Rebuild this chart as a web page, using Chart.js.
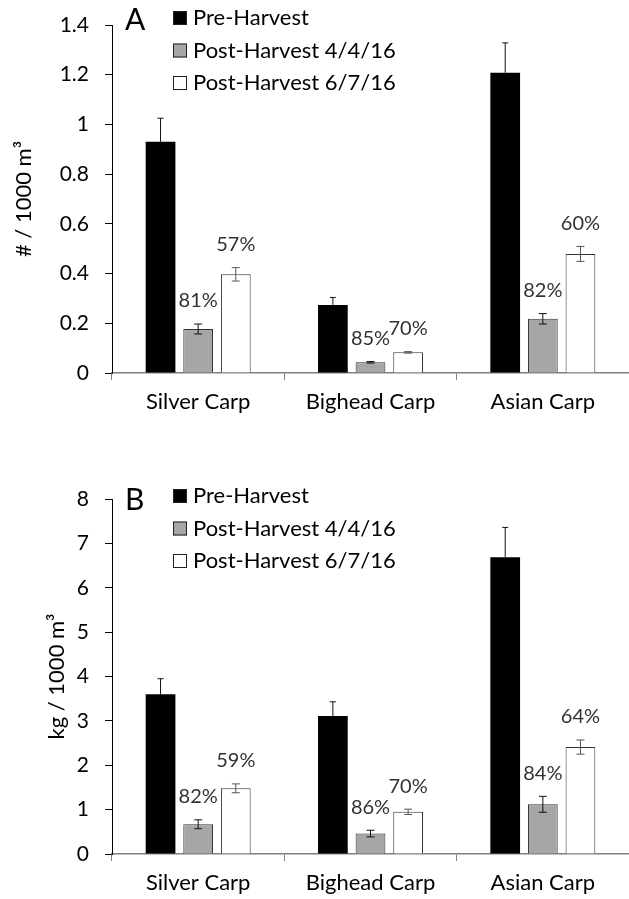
<!DOCTYPE html>
<html>
<head>
<meta charset="utf-8">
<script src="https://cdn.jsdelivr.net/npm/chart.js@4"></script>
<style>
  body { margin: 0; background: #fff; overflow: hidden; }
  .box { position: absolute; left: 0; width: 629px; }
  #boxA { top: -10px; height: 450px; }
  #boxB { top: 450px; height: 449px; }
</style>
</head>
<body>
<div class="box" id="boxA"><canvas id="chartA"></canvas></div>
<div class="box" id="boxB"><canvas id="chartB"></canvas></div>
<script>
// DATA
const categories = ['Silver Carp', 'Bighead Carp', 'Asian Carp'];
const seriesNames = ['Pre-Harvest', 'Post-Harvest 4/4/16', 'Post-Harvest 6/7/16'];

// panel A: number per 1000 m3
const preA = [0.93, 0.274, 1.208];
const post1A = [0.177, 0.043, 0.218];
const post2A = [0.397, 0.083, 0.479];
const preErrA = [0.095, 0.03, 0.12];
const post1ErrA = [0.02, 0.003, 0.021];
const post2ErrA = [0.027, 0.003, 0.03];
const pct1A = ['81%', '85%', '82%'];
const pct2A = ['57%', '70%', '60%'];
const ticksA = [0, 0.2, 0.4, 0.6, 0.8, 1, 1.2, 1.4];

// panel B: kg per 1000 m3
const preB = [3.6, 3.11, 6.69];
const post1B = [0.67, 0.46, 1.12];
const post2B = [1.48, 0.95, 2.41];
const preErrB = [0.35, 0.32, 0.67];
const post1ErrB = [0.1, 0.075, 0.18];
const post2ErrB = [0.1, 0.06, 0.16];
const pct1B = ['82%', '86%', '84%'];
const pct2B = ['59%', '70%', '64%'];
const ticksB = [0, 1, 2, 3, 4, 5, 6, 7, 8];

const FONT = 'Lato, "Open Sans", sans-serif';

// error bars, percent labels, legend and panel letter
const extras = {
    id: 'extras',
    afterDatasetsDraw(chart, args, opts) {
        const ctx = chart.ctx;
        const y = chart.scales.y;
        ctx.save();
        chart.data.datasets.forEach((ds, i) => {
            const meta = chart.getDatasetMeta(i);
            meta.data.forEach((bar, j) => {
                const v = ds.data[j];
                const e = ds.err[j];
                const top = y.getPixelForValue(v + e);
                const bot = i === 0 ? bar.y : y.getPixelForValue(v - e);
                const cap = i === 0 ? 3 : 4;
                ctx.strokeStyle = i === 2 ? '#555' : '#111';
                ctx.lineWidth = 1;
                ctx.beginPath();
                ctx.moveTo(bar.x, top);
                ctx.lineTo(bar.x, bot);
                ctx.moveTo(bar.x - cap, top);
                ctx.lineTo(bar.x + cap, top);
                if (i > 0) {
                    ctx.moveTo(bar.x - cap, bot);
                    ctx.lineTo(bar.x + cap, bot);
                }
                ctx.stroke();
                if (ds.pct) {
                    ctx.fillStyle = '#333';
                    ctx.font = '20px ' + FONT;
                    ctx.textAlign = 'center';
                    ctx.textBaseline = 'middle';
                    ctx.fillText(ds.pct[j], bar.x, top - 23);
                }
            });
        });

        // legend
        const ca = chart.chartArea;
        ctx.font = '22px ' + FONT;
        ctx.textAlign = 'left';
        ctx.textBaseline = 'middle';
        chart.data.datasets.forEach((ds, i) => {
            const ly = ca.top + opts.legendY + i * 32.5;
            ctx.fillStyle = ds.backgroundColor;
            ctx.fillRect(173, ly - 7, 14, 14);
            ctx.strokeStyle = '#222';
            ctx.strokeRect(173.5, ly - 6.5, 13, 13);
            ctx.fillStyle = '#000';
            ctx.fillText(ds.label, 193, ly);
        });

        // panel letter
        ctx.font = '30px ' + FONT;
        ctx.fillText(opts.letter, 125, ca.top + opts.letterY);
        ctx.restore();
    }
};

function makeChart(id, pre, post1, post2, preErr, post1Err, post2Err, pct1, pct2, ticks, title, o) {
    return new Chart(document.getElementById(id), {
        type: 'bar',
        data: {
            labels: categories,
            datasets: [
                { label: seriesNames[0], data: pre, err: preErr, backgroundColor: '#000000', borderWidth: 0 },
                { label: seriesNames[1], data: post1, err: post1Err, pct: pct1, backgroundColor: '#a6a6a6', borderColor: '#333', borderWidth: 1 },
                { label: seriesNames[2], data: post2, err: post2Err, pct: pct2, backgroundColor: '#ffffff', borderColor: '#333', borderWidth: 1 }
            ]
        },
        options: {
            responsive: true,
            maintainAspectRatio: false,
            animation: false,
            categoryPercentage: 0.655,
            barPercentage: 0.79,
            layout: { padding: { top: o.top, right: 0, bottom: 0, left: 0 } },
            plugins: {
                legend: { display: false },
                tooltip: { enabled: false },
                extras: { letter: o.letter, legendY: o.legendY, letterY: o.letterY }
            },
            scales: {
                x: {
                    grid: { offset: true, drawOnChartArea: false, tickLength: 7, color: '#808080' },
                    border: { color: '#808080', width: 1.5 },
                    ticks: { color: '#000', padding: 9, font: { family: FONT, size: 22 } },
                    afterFit: s => { s.height = o.xh; }
                },
                y: {
                    min: ticks[0],
                    max: ticks[ticks.length - 1],
                    afterBuildTicks: s => { s.ticks = ticks.map(v => ({ value: v })); },
                    grid: { drawOnChartArea: false, tickLength: 7, color: '#000' },
                    border: { color: '#000', width: 1 },
                    ticks: {
                        color: '#000',
                        padding: 16,
                        font: { family: FONT, size: 21 },
                        callback: v => String(Number(v.toFixed(1)))
                    },
                    title: {
                        display: true,
                        text: title,
                        color: '#000',
                        font: { family: FONT, size: 22 },
                        padding: { top: o.titlePad, bottom: 0 }
                    },
                    afterFit: s => { s.width = 112; }
                }
            }
        },
        plugins: [extras]
    });
}

makeChart('chartA', preA, post1A, post2A, preErrA, post1ErrA, post2ErrA, pct1A, pct2A, ticksA,
    '# / 1000 m³', { top: 35, xh: 67, letter: 'A', legendY: -7, letterY: -5, titlePad: 11 });
makeChart('chartB', preB, post1B, post2B, preErrB, post1ErrB, post2ErrB, pct1B, pct2B, ticksB,
    'kg / 1000 m³', { top: 49, xh: 45, letter: 'B', legendY: -3, letterY: 1, titlePad: 44 });
</script>
</body>
</html>
